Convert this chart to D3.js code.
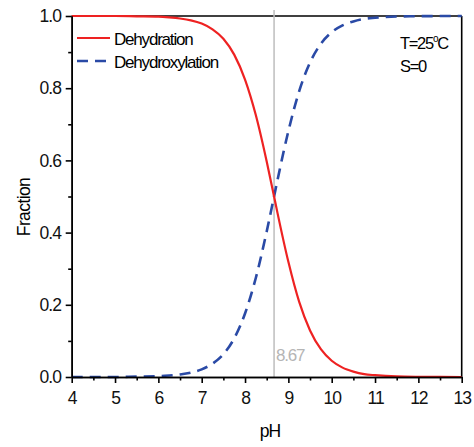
<!DOCTYPE html>
<html><head><meta charset="utf-8">
<script src="https://cdn.jsdelivr.net/npm/d3@7"></script>
<style>body{margin:0;background:#fff}svg{display:block}text{font-family:"Liberation Sans",Arial,sans-serif}</style>
</head><body><svg id="c" width="474" height="447"></svg>
<script>
const pH = [4,4.5,5,5.5,6,6.25,6.5,6.75,7,7.25,7.5,7.75,8,8.25,8.5,8.67,8.75,9,9.25,9.5,9.75,10,10.25,10.5,10.75,11,11.5,12,12.5,13];
const dehydration = [1.000,1.000,1.000,0.999,0.998,0.996,0.993,0.988,0.979,0.963,0.937,0.893,0.824,0.725,0.597,0.500,0.454,0.319,0.208,0.129,0.077,0.045,0.026,0.015,0.008,0.005,0.0015,0.0005,0.0002,0.000];
const dehydroxylation = [0.000,0.000,0.000,0.001,0.002,0.004,0.007,0.012,0.021,0.037,0.063,0.107,0.176,0.275,0.403,0.500,0.546,0.681,0.792,0.871,0.923,0.955,0.974,0.985,0.992,0.995,0.9985,0.9995,0.9998,1.000];
const xTicks = [4,5,6,7,8,9,10,11,12,13];
const yTicks = [0.0,0.2,0.4,0.6,0.8,1.0];
const pKa = 8.67;
const legendLabels = ["Dehydration","Dehydroxylation"];

const svg = d3.select("#c");
const L=71.7,R=461.7,T=16,B=377;
const x = d3.scaleLinear().domain([4,13]).range([L,R]);
const y = d3.scaleLinear().domain([0,1]).range([B,T]);

// frame top/right
svg.append("line").attr("x1",L).attr("x2",R).attr("y1",T).attr("y2",T).attr("stroke","#000").attr("stroke-width",1.6);
svg.append("line").attr("x1",R).attr("x2",R).attr("y1",T).attr("y2",B).attr("stroke","#000").attr("stroke-width",1.6);

// vertical reference line
svg.append("line").attr("x1",x(pKa)).attr("x2",x(pKa)).attr("y1",10).attr("y2",B).attr("stroke","#bdbdbd").attr("stroke-width",1.5);
svg.append("text").attr("x",x(pKa)+2).attr("y",361).attr("fill","#b5b5b5").attr("font-size",17).attr("letter-spacing",-1.2).text(pKa.toFixed(2));

const line = d3.line().x((d,i)=>x(pH[i])).y(d=>y(d)).curve(d3.curveMonotoneX);
svg.append("path").attr("d",line(dehydroxylation)).attr("fill","none").attr("stroke","#2a4aa6").attr("stroke-width",2.6).attr("stroke-dasharray","11,7");
svg.append("path").attr("d",line(dehydration)).attr("fill","none").attr("stroke","#ee2222").attr("stroke-width",2.2);

// axes
const xAxis = svg.append("g").attr("transform",`translate(0,${B})`)
  .call(d3.axisBottom(x).tickValues(xTicks).tickFormat(d3.format("d")).tickSize(6).tickSizeOuter(0));
const xMinor = svg.append("g").attr("transform",`translate(0,${B})`)
  .call(d3.axisBottom(x).tickValues(d3.range(4.5,13,1)).tickFormat("").tickSize(3.5).tickSizeOuter(0));
const yAxis = svg.append("g").attr("transform",`translate(${L},0)`)
  .call(d3.axisLeft(y).tickValues(yTicks).tickFormat(d3.format(".1f")).tickSize(6).tickSizeOuter(0));
const yMinor = svg.append("g").attr("transform",`translate(${L},0)`)
  .call(d3.axisLeft(y).tickValues([0.1,0.3,0.5,0.7,0.9]).tickFormat("").tickSize(3.5).tickSizeOuter(0));
[xAxis,xMinor,yAxis,yMinor].forEach(g=>{
  g.selectAll("path,line").attr("stroke","#000").attr("stroke-width",1.6);
  g.selectAll("text").attr("font-family","Liberation Sans, Arial, sans-serif").attr("font-size",17.5).attr("fill","#111").attr("letter-spacing",-1);
});
xAxis.selectAll("text").attr("dy","1.05em");
yAxis.selectAll("text").attr("dx","-0.1em");

// axis titles
svg.append("text").attr("x",270).attr("y",437).attr("text-anchor","middle").attr("font-size",17.5).attr("letter-spacing",-1).text("pH");
svg.append("text").attr("transform","translate(30,207) rotate(-90)").attr("text-anchor","middle").attr("font-size",17.5).attr("letter-spacing",-0.6).text("Fraction");

// legend
svg.append("line").attr("x1",77).attr("x2",110).attr("y1",38).attr("y2",38).attr("stroke","#ee2222").attr("stroke-width",2.2);
svg.append("line").attr("x1",77).attr("x2",110).attr("y1",61).attr("y2",61).attr("stroke","#2a4aa6").attr("stroke-width",2.6).attr("stroke-dasharray","11,7");
svg.append("text").attr("x",114).attr("y",44.5).attr("font-size",17).attr("letter-spacing",-1.2).text(legendLabels[0]);
svg.append("text").attr("x",114).attr("y",67.5).attr("font-size",17).attr("letter-spacing",-1.2).text(legendLabels[1]);

// conditions
const t1 = svg.append("text").attr("x",400).attr("y",48.5).attr("font-size",16.5).attr("letter-spacing",-1.3);
t1.append("tspan").text("T=25");
t1.append("tspan").attr("font-size",10).attr("dy",-7).text("o");
t1.append("tspan").attr("dy",7).text("C");
svg.append("text").attr("x",400).attr("y",71.5).attr("font-size",16.5).attr("letter-spacing",-1.3).text("S=0");
</script></body></html>
